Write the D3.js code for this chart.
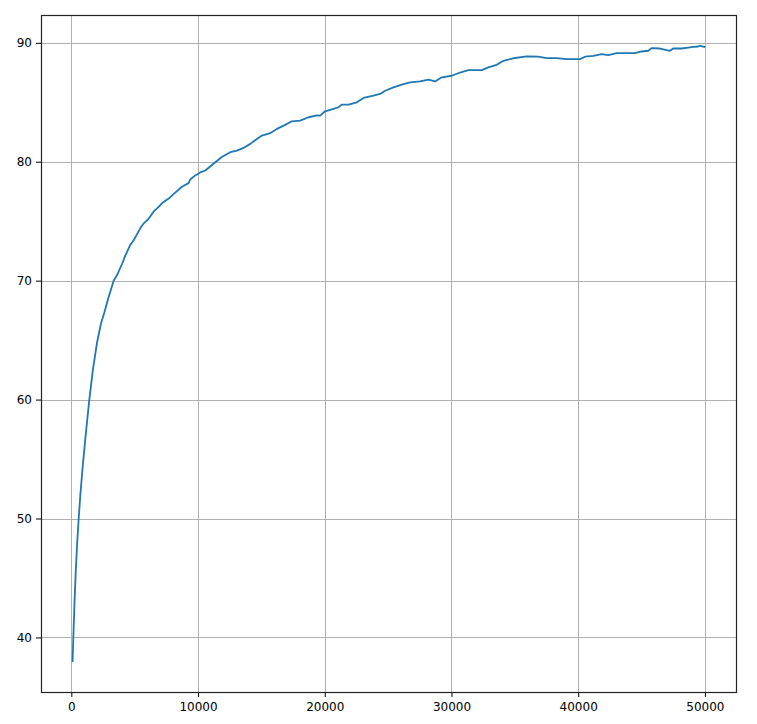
<!DOCTYPE html>
<html>
<head>
<meta charset="utf-8">
<script src="https://cdn.jsdelivr.net/npm/d3@7"></script>
<style>
  html, body { margin: 0; padding: 0; background: #fff; }
  svg { display: block; }
</style>
</head>
<body>
<svg id="chart" width="757" height="724"></svg>
<script>
const steps = [100, 158, 250, 350, 460, 580, 720, 900, 1150, 1420, 1700, 2030, 2340, 2600, 2940, 3340, 3600, 4000, 4260, 4650, 4920, 5440, 5700, 6100, 6490, 6890, 7150, 7680, 8200, 8730, 9250, 9380, 9780, 10170, 10570, 10960, 11360, 11880, 12540, 13070, 13590, 14120, 14510, 15040, 15690, 16220, 16880, 17400, 18060, 18720, 19380, 19640, 20030, 20690, 21080, 21350, 21870, 22530, 23060, 23840, 24370, 24760, 25420, 26210, 26740, 27520, 28180, 28710, 29230, 30020, 30680, 31330, 32390, 32910, 33570, 34100, 34880, 35940, 36850, 37510, 38300, 39090, 40140, 40540, 41190, 41850, 42370, 43040, 43820, 44480, 45010, 45530, 45790, 46450, 47240, 47500, 48160, 48680, 49080, 49470, 49610, 49960];
const accuracy = [38.0, 40.0, 42.9, 45.6, 47.9, 50.0, 52.1, 54.4, 57.2, 60.0, 62.5, 64.8, 66.4, 67.3, 68.6, 70.0, 70.45, 71.4, 72.1, 73.0, 73.4, 74.4, 74.8, 75.2, 75.8, 76.2, 76.5, 76.9, 77.4, 77.9, 78.2, 78.5, 78.85, 79.1, 79.26, 79.6, 79.96, 80.4, 80.8, 80.94, 81.16, 81.5, 81.8, 82.2, 82.4, 82.76, 83.1, 83.4, 83.46, 83.74, 83.9, 83.88, 84.24, 84.44, 84.58, 84.8, 84.8, 85.0, 85.36, 85.55, 85.7, 85.97, 86.25, 86.53, 86.67, 86.75, 86.9, 86.75, 87.1, 87.23, 87.5, 87.7, 87.7, 87.93, 88.15, 88.49, 88.7, 88.85, 88.83, 88.71, 88.71, 88.63, 88.63, 88.83, 88.9, 89.05, 88.97, 89.13, 89.13, 89.13, 89.27, 89.33, 89.55, 89.52, 89.33, 89.52, 89.52, 89.6, 89.66, 89.69, 89.75, 89.66];
const xTicks = [0, 10000, 20000, 30000, 40000, 50000];
const yTicks = [40, 50, 60, 70, 80, 90];

(function () {
  const data = steps.map((s, i) => ({ x: s, y: accuracy[i] }));

  const mL = 41, mR = 736, mT = 15, mB = 692;
  const svg = d3.select("#chart");

  const xMin = d3.min(steps), xMax = d3.max(steps);
  const yMin = d3.min(accuracy), yMax = d3.max(accuracy);
  const xPad = (xMax - xMin) * 0.05, yPad = (yMax - yMin) * 0.05;

  const x = d3.scaleLinear().domain([xMin - xPad, xMax + xPad]).range([mL, mR]);
  const y = d3.scaleLinear().domain([yMin - yPad, yMax + yPad]).range([mB, mT]);

  const grid = svg.append("g");
  grid.selectAll("line.gx").data(xTicks).join("line").attr("class", "gx")
    .attr("x1", d => Math.round(x(d)) + 0.5).attr("x2", d => Math.round(x(d)) + 0.5)
    .attr("y1", mT).attr("y2", mB)
    .attr("stroke", "#b0b0b0").attr("stroke-width", 1);
  grid.selectAll("line.gy").data(yTicks).join("line").attr("class", "gy")
    .attr("y1", d => Math.round(y(d)) + 0.5).attr("y2", d => Math.round(y(d)) + 0.5)
    .attr("x1", mL).attr("x2", mR)
    .attr("stroke", "#b0b0b0").attr("stroke-width", 1);

  svg.append("path").datum(data)
    .attr("fill", "none")
    .attr("stroke", "#1f77b4")
    .attr("stroke-width", 1.8)
    .attr("stroke-linejoin", "round")
    .attr("stroke-linecap", "square")
    .attr("d", d3.line().x(d => x(d.x)).y(d => y(d.y)));

  const fontFam = "'DejaVu Sans', sans-serif";
  const xAxis = svg.append("g").attr("transform", `translate(0,${mB})`)
    .call(d3.axisBottom(x).tickValues(xTicks).tickFormat(d3.format("d")).tickSize(5).tickPadding(5));
  const yAxis = svg.append("g").attr("transform", `translate(${mL},0)`)
    .call(d3.axisLeft(y).tickValues(yTicks).tickFormat(d3.format("d")).tickSize(5).tickPadding(4));
  [xAxis, yAxis].forEach(a => {
    a.select(".domain").remove();
    a.selectAll("text").attr("font-family", fontFam).attr("font-size", 12).attr("fill", "#000");
    a.selectAll("line").attr("stroke", "#000");
  });

  svg.append("rect")
    .attr("x", mL + 0.5).attr("y", mT + 0.5)
    .attr("width", mR - mL).attr("height", mB - mT)
    .attr("fill", "none").attr("stroke", "#222").attr("stroke-width", 1.2);
})();
</script>
</body>
</html>
